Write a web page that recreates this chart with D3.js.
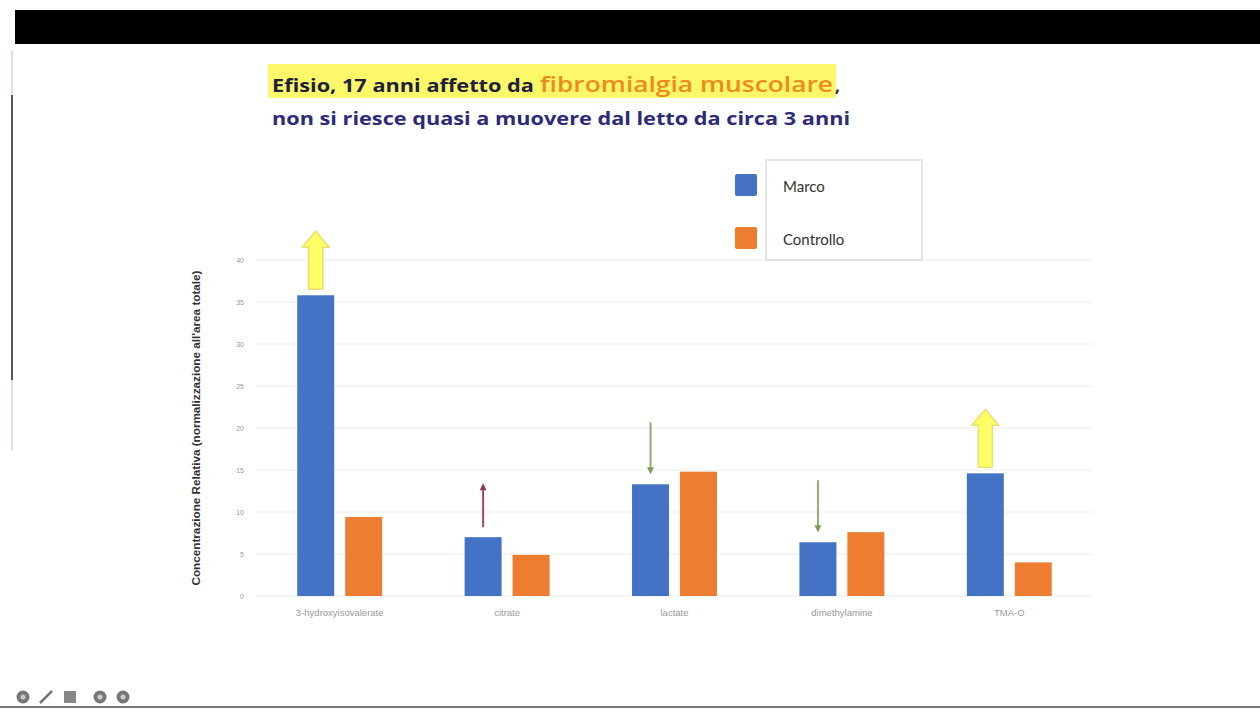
<!DOCTYPE html>
<html><head><meta charset="utf-8">
<script src="https://cdn.jsdelivr.net/npm/d3@7"></script>
<style>html,body{margin:0;padding:0;background:#fff;overflow:hidden}</style>
</head><body>
<svg id="c" width="1260" height="710"></svg>
<script>
const categories = ["3-hydroxyisovalerate", "citrate", "lactate", "dimethylamine", "TMA-O"];
const seriesNames = ["Marco", "Controllo"];
const marco = [35.8, 7.0, 13.3, 6.4, 14.6];
const controllo = [9.4, 4.9, 14.8, 7.6, 4.0];
const yTicks = [0, 5, 10, 15, 20, 25, 30, 35, 40];
// annotation arrows: category, kind
const arrowCats = ["3-hydroxyisovalerate", "citrate", "lactate", "dimethylamine", "TMA-O"];
const arrowKinds = ["bigUp", "smallUp", "smallDown", "smallDown", "bigUp"];

const colors = {Marco: "#4472C4", Controllo: "#ED7D31"};
const svg = d3.select("#c");
const titleFont = "'Open Sans', Lato, sans-serif";

// frame decorations
svg.append("rect").attr("x", 15).attr("y", 10).attr("width", 1245).attr("height", 34).attr("fill", "#000");
svg.append("line").attr("x1", 12).attr("x2", 12).attr("y1", 50).attr("y2", 450).attr("stroke", "#cfe8e6").attr("stroke-width", 2);
svg.append("line").attr("x1", 12).attr("x2", 12).attr("y1", 95).attr("y2", 380).attr("stroke", "#555").attr("stroke-width", 2);
svg.append("line").attr("x1", 0).attr("x2", 1260).attr("y1", 707).attr("y2", 707).attr("stroke", "#777").attr("stroke-width", 2);

// title
svg.append("rect").attr("x", 268).attr("y", 64).attr("width", 568).attr("height", 34).attr("fill", "#fdf75a").attr("opacity", 0.9);
svg.append("text").attr("x", 272).attr("y", 92).attr("font-family", titleFont).attr("font-weight", "bold")
  .attr("font-size", 17).attr("fill", "#1f1f3a").attr("textLength", 262).attr("lengthAdjust", "spacingAndGlyphs")
  .text("Efisio, 17 anni affetto da");
svg.append("text").attr("x", 540).attr("y", 92).attr("font-family", titleFont).attr("font-weight", "600")
  .attr("font-size", 22).attr("fill", "#f08a1c").attr("textLength", 293).attr("lengthAdjust", "spacingAndGlyphs")
  .text("fibromialgia muscolare");
svg.append("text").attr("x", 835).attr("y", 92).attr("font-family", titleFont).attr("font-weight", "bold")
  .attr("font-size", 17).attr("fill", "#1f1f3a").text(",");
svg.append("text").attr("x", 272).attr("y", 125).attr("font-family", titleFont).attr("font-weight", "bold")
  .attr("font-size", 17).attr("fill", "#2e2a7a").attr("textLength", 578).attr("lengthAdjust", "spacingAndGlyphs")
  .text("non si riesce quasi a muovere dal letto da circa 3 anni");

// scales
const x0 = d3.scaleBand().domain(categories).range([256, 1093]).paddingInner(0).paddingOuter(0);
const x1 = d3.scaleBand().domain(seriesNames).range([0, x0.bandwidth()]).paddingInner(0.229).paddingOuter(0.86);
const y = d3.scaleLinear().domain([0, 40]).range([596, 260]);

// grid
svg.append("g").selectAll("line").data(yTicks).join("line")
  .attr("x1", 256).attr("x2", 1093).attr("y1", d => y(d)).attr("y2", d => y(d))
  .attr("stroke", "#ececec").attr("stroke-width", 1);

// y axis labels
const ya = svg.append("g").attr("transform", "translate(244,0)")
  .call(d3.axisLeft(y).tickValues(yTicks).tickSize(0).tickPadding(0));
ya.select(".domain").remove();
ya.selectAll("text").attr("font-size", 7).attr("fill", "#999").attr("font-family", "Liberation Sans, Arial, sans-serif");

// y title
svg.append("text").attr("transform", "translate(200,428) rotate(-90)").attr("text-anchor", "middle")
  .attr("font-size", 10).attr("font-weight", "bold").attr("fill", "#333").attr("font-family", "Liberation Sans, Arial, sans-serif")
  .attr("textLength", 315).attr("lengthAdjust", "spacingAndGlyphs")
  .text("Concentrazione Relativa (normalizzazione all'area totale)");

// x axis labels
const xa = svg.append("g").attr("transform", "translate(0,604)")
  .call(d3.axisBottom(x0).tickSize(0).tickPadding(5));
xa.select(".domain").remove();
xa.selectAll("text").attr("font-size", 9.5).attr("fill", "#999").attr("font-family", "Liberation Sans, Arial, sans-serif");

// bars
const rows = categories.map((c, i) => ({cat: c, vals: [{s: "Marco", v: marco[i]}, {s: "Controllo", v: controllo[i]}]}));
svg.append("g").selectAll("g").data(rows).join("g")
  .attr("transform", d => `translate(${x0(d.cat)},0)`)
  .selectAll("rect").data(d => d.vals).join("rect")
  .attr("x", d => x1(d.s)).attr("width", x1.bandwidth())
  .attr("y", d => y(d.v)).attr("height", d => y(0) - y(d.v))
  .attr("fill", d => colors[d.s]);

// arrows
const ag = svg.append("g");
arrowCats.forEach((c, i) => {
  const cx = x0(c) + x1("Marco") + x1.bandwidth() / 2;
  const top = y(marco[categories.indexOf(c)]);
  const k = arrowKinds[i];
  if (k === "bigUp") {
    const b = top - 6, h = 58, sw = 14, hw = 27, hh = 16;
    const pts = [[cx - sw/2, b], [cx - sw/2, b - h + hh], [cx - hw/2, b - h + hh], [cx, b - h], [cx + hw/2, b - h + hh], [cx + sw/2, b - h + hh], [cx + sw/2, b]];
    ag.append("polygon").attr("points", pts.map(p => p.join(",")).join(" "))
      .attr("fill", "#ffff66").attr("stroke", "#e8e070").attr("stroke-width", 1.5);
  } else if (k === "smallUp") {
    const b = top - 10, tp = top - 54;
    ag.append("line").attr("x1", cx).attr("x2", cx).attr("y1", b).attr("y2", tp + 5).attr("stroke", "#9a4a5a").attr("stroke-width", 2);
    ag.append("polygon").attr("points", `${cx-3.5},${tp+7} ${cx},${tp} ${cx+3.5},${tp+7}`).attr("fill", "#8a3a4a");
  } else {
    const b = top - 10, tp = top - 62;
    ag.append("line").attr("x1", cx).attr("x2", cx).attr("y1", tp).attr("y2", b - 5).attr("stroke", "#8fae6a").attr("stroke-width", 2);
    ag.append("polygon").attr("points", `${cx-3.5},${b-7} ${cx},${b} ${cx+3.5},${b-7}`).attr("fill", "#7f9e5a");
  }
});

// legend
svg.append("rect").attr("x", 766).attr("y", 160).attr("width", 156).attr("height", 100).attr("fill", "#fff").attr("stroke", "#ddd").attr("stroke-width", 1.5);
const lg = svg.append("g");
seriesNames.forEach((s, i) => {
  lg.append("rect").attr("x", 735).attr("y", 174 + i * 53).attr("width", 22).attr("height", 22).attr("rx", 2).attr("fill", colors[s]);
  lg.append("text").attr("x", 783).attr("y", 192 + i * 53).attr("font-size", 15).attr("fill", "#333")
    .attr("font-family", "Lato, 'Open Sans', sans-serif").text(s);
});

// bottom-left toolbar icons
const ic = svg.append("g");
[23, 100, 123].forEach(cx => {
  ic.append("circle").attr("cx", cx).attr("cy", 697).attr("r", 6.5).attr("fill", "#777");
  ic.append("circle").attr("cx", cx).attr("cy", 697).attr("r", 2.5).attr("fill", "#ccc");
});
ic.append("line").attr("x1", 40).attr("y1", 703).attr("x2", 52).attr("y2", 691).attr("stroke", "#777").attr("stroke-width", 2.5);
ic.append("rect").attr("x", 64).attr("y", 691).attr("width", 12).attr("height", 12).attr("fill", "#888");
</script>
</body></html>
